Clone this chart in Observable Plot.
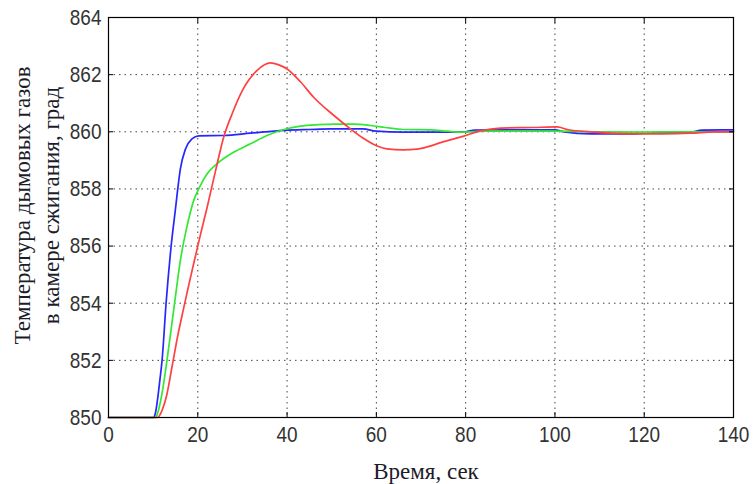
<!DOCTYPE html>
<html><head><meta charset="utf-8">
<script src="https://cdn.jsdelivr.net/npm/d3@7"></script>
<script src="https://cdn.jsdelivr.net/npm/@observablehq/plot@0.6"></script>
<style>
body{margin:0;background:#fff}
</style>
</head><body><div id="chart"></div>
<script>
const blueT = [0,10,10.5,11,11.5,12,12.9,14,15,15.4,16.1,17.25,18.7,20.2,25.8,31.8,39.3,45,50,57,60,66,74,80,82,100,102,108,117,124,130,133,140];
const blueV = [850,850,850.15,850.65,851.3,852,854,855.95,857.3,857.85,858.7,859.4,859.75,859.86,859.87,859.95,860.05,860.08,860.1,860.1,860.02,859.99,859.99,860.0,860.06,860.07,860.0,859.93,859.93,859.98,859.98,860.06,860.07];
const greenT = [0,10.5,11,12,13.1,14.8,16.1,17.6,19.1,20.2,22.1,24.3,28.1,31.8,35.5,39.3,43,47,50.5,55,58.7,62,66,72,76,79,85,100,108,120,130,140];
const greenV = [850,850,850.15,850.85,852,854,855.5,856.7,857.6,858.0,858.53,858.88,859.29,859.58,859.87,860.08,860.2,860.25,860.27,860.27,860.22,860.15,860.08,860.07,860.02,859.99,860.02,860.02,860.0,859.99,860.0,860.0];
const redT = [0,11,12,13,14.2,15.5,16.8,18,19.1,20.6,22.1,24,25.8,27.7,30,33.3,36.3,38,40,43,46,50.5,54.2,57,60.2,62.4,66,69.1,72,74.4,79.6,83.3,87.8,95,100.5,103,108,117.6,124,130.4,135.6,140];
const redV = [850,850,850.25,850.75,851.75,852.85,853.8,854.65,855.4,856.4,857.36,858.65,859.81,860.63,861.45,862.15,862.41,862.35,862.2,861.75,861.2,860.57,860.1,859.78,859.5,859.4,859.37,859.39,859.5,859.62,859.85,860.03,860.13,860.15,860.17,860.07,860.0,859.93,859.93,859.95,860.0,860.0];
const seriesNames = ["Серия 1","Серия 2","Серия 3"];
const seriesColors = ["#2626ff","#33e833","#ff4040"];
const xTicks = [0,20,40,60,80,100,120,140];
const yTicks = [850,852,854,856,858,860,862,864];
const xLabel = "Время, сек";
const yLabel = "Температура дымовых газов\nв камере сжигания, град";

const series = [[blueT,blueV],[greenT,greenV],[redT,redV]];
const data = series.flatMap(([T,V],k) => T.map((t,i) => ({t, v: V[i], s: seriesNames[k]})));

const tickFont = '"Liberation Sans",Arial,sans-serif';
const labelFont = '"Liberation Serif","Times New Roman",serif';

const plot = Plot.plot({
  width: 754, height: 484,
  marginLeft: 108, marginRight: 21, marginTop: 17, marginBottom: 67,
  x: {domain: [0,140]},
  y: {domain: [850,864]},
  color: {domain: seriesNames, range: seriesColors},
  style: {fontFamily: tickFont, fontSize: "19px", color: "#333", background: "#fff"},
  marks: [
    Plot.gridX(xTicks, {stroke: "#222", strokeOpacity: 0.85, strokeDasharray: "1.5,4"}),
    Plot.gridY(yTicks, {stroke: "#222", strokeOpacity: 0.85, strokeDasharray: "1.5,4"}),
    Plot.line(data, {x: "t", y: "v", z: "s", stroke: "s", strokeWidth: 1.7, curve: "monotone-x"}),
    Plot.frame({stroke: "#000", strokeWidth: 1.2}),
    Plot.axisX(xTicks, {tickSize: -5, fill: "none", label: null, stroke: "#000"}),
    Plot.axisX(xTicks, {anchor: "top", tickSize: -5, fill: "none", label: null, stroke: "#000"}),
    Plot.axisY(yTicks, {tickSize: -5, fill: "none", label: null, stroke: "#000"}),
    Plot.axisY(yTicks, {anchor: "right", tickSize: -5, fill: "none", label: null, stroke: "#000"}),
    Plot.axisX(xTicks, {tickSize: 0, tickPadding: 8, label: null, fill: "#333"}),
    Plot.axisY(yTicks, {tickSize: 0, tickPadding: 7, label: null, fill: "#333"}),
    Plot.text([xLabel], {frameAnchor: "bottom", lineAnchor: "top", dy: 45, dx: 5, fontFamily: labelFont, fontSize: 23, fill: "#1c1c2a"}),
    Plot.text([yLabel], {frameAnchor: "left", textAnchor: "middle", rotate: -90, lineAnchor: "middle", lineHeight: 1.25, dx: -73, dy: -12, fontFamily: labelFont, fontSize: 23, fill: "#1c1c2a"})
  ]
});
d3.select(plot).selectAll('g[aria-label="x-axis tick label"] text, g[aria-label="y-axis tick label"] text')
  .attr("transform", function() { return (this.getAttribute("transform") || "") + " scale(1,1.2)"; });
document.getElementById("chart").appendChild(plot);
</script>
</body></html>
